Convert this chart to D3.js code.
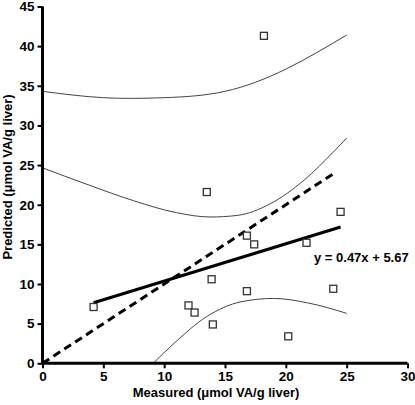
<!DOCTYPE html>
<html>
<head>
<meta charset="utf-8">
<script src="https://cdn.jsdelivr.net/npm/d3@7"></script>
<style>
body { margin: 0; background: #fff; }
svg text { font-family: "Liberation Sans", Arial, sans-serif; font-weight: bold; }
</style>
</head>
<body>
<svg id="chart" width="415" height="405"></svg>
<script>
// Data
const measured  = [4.2, 18.2, 13.5, 16.8, 17.4, 13.9, 16.8, 12.0, 12.5, 14.0, 24.5, 21.7, 23.9, 20.2];
const predicted = [7.1, 41.3, 21.6, 16.1, 15.0, 10.6, 9.1, 7.3, 6.4, 4.9, 19.1, 15.2, 9.4, 3.4];
const slope = 0.47, intercept = 5.67;
const fitRange = [4.2, 24.5];
const identityRange = [0, 24.1];
const upperCurve = [[0,34.3],[5,33.5],[10,33.5],[15,34.3],[20,37.1],[25,41.4]];
const middleCurve = [[0,24.65],[3.6,22.6],[7.5,20.5],[11,19.0],[13.8,18.45],[16,18.65],[18.7,20.1],[21.5,23.1],[24,26.8],[25,28.4]];
const lowerCurve = [[9.1,0.0],[10.8,2.5],[13.5,5.9],[16.3,7.75],[19,8.18],[21.8,7.62],[25,6.3]];
const xTicks = [0, 5, 10, 15, 20, 25, 30];
const yTicks = [0, 5, 10, 15, 20, 25, 30, 35, 40, 45];
const equationLabel = "y = 0.47x + 5.67";
const xTitle = "Measured (\u03bcmol VA/g liver)";
const yTitle = "Predicted (\u03bcmol VA/g liver)";

const svg = d3.select("#chart");
const x = d3.scaleLinear().domain([0, 30]).range([42.5, 407.5]);
const y = d3.scaleLinear().domain([0, 45]).range([363.3, 6.5]);

const line = d3.line().x(d => x(d[0])).y(d => y(d[1])).curve(d3.curveMonotoneX);
const smooth = d3.line().x(d => x(d[0])).y(d => y(d[1])).curve(d3.curveNatural);
svg.append("path").attr("d", smooth(upperCurve)).attr("fill", "none")
   .attr("stroke", "#444").attr("stroke-width", 1);
[middleCurve, lowerCurve].forEach(c => {
  svg.append("path").attr("d", line(c)).attr("fill", "none")
     .attr("stroke", "#444").attr("stroke-width", 1);
});

// identity dashed line
svg.append("line")
  .attr("x1", x(identityRange[0])).attr("y1", y(identityRange[0]))
  .attr("x2", x(identityRange[1])).attr("y2", y(identityRange[1]))
  .attr("stroke", "#000").attr("stroke-width", 3).attr("stroke-dasharray", "8,5");

// regression line
svg.append("line")
  .attr("x1", x(fitRange[0])).attr("y1", y(slope * fitRange[0] + intercept))
  .attr("x2", x(fitRange[1])).attr("y2", y(slope * fitRange[1] + intercept))
  .attr("stroke", "#000").attr("stroke-width", 3);

// points
const s = 7;
svg.selectAll("rect.pt").data(measured.map((m, i) => [m, predicted[i]]))
  .enter().append("rect").attr("class", "pt")
  .attr("x", d => x(d[0]) - s / 2).attr("y", d => y(d[1]) - s / 2)
  .attr("width", s).attr("height", s)
  .attr("fill", "#fff").attr("stroke", "#333").attr("stroke-width", 1.3);

// axes
const xAxis = svg.append("g").attr("transform", `translate(0,${y(0)})`)
  .call(d3.axisBottom(x).tickValues(xTicks).tickSize(5).tickPadding(3).tickFormat(d3.format("d")));
const yAxis = svg.append("g").attr("transform", `translate(${x(0)},0)`)
  .call(d3.axisLeft(y).tickValues(yTicks).tickSize(5).tickPadding(3).tickFormat(d3.format("d")));
[xAxis, yAxis].forEach(g => {
  g.select(".domain").attr("stroke", "#000").attr("stroke-width", 3);
  g.selectAll(".tick line").attr("stroke", "#000").attr("stroke-width", 2);
  g.selectAll("text").attr("font-size", 13.5).attr("fill", "#000")
    .attr("font-family", "Liberation Sans, Arial, sans-serif").attr("font-weight", "bold");
});
xAxis.select(".domain").attr("d", `M${x(0)},0H${x(30)}`);
yAxis.select(".domain").attr("d", `M0,${y(0)}V${y(45)}`);

// equation
svg.append("text").attr("x", 314).attr("y", 262).attr("font-size", 13).text(equationLabel);

// axis titles
svg.append("text").attr("x", 216).attr("y", 397).attr("text-anchor", "middle")
  .attr("font-size", 13).text(xTitle);
svg.append("text").attr("transform", "translate(12,177) rotate(-90)")
  .attr("text-anchor", "middle").attr("font-size", 13).text(yTitle);
</script>
</body>
</html>
